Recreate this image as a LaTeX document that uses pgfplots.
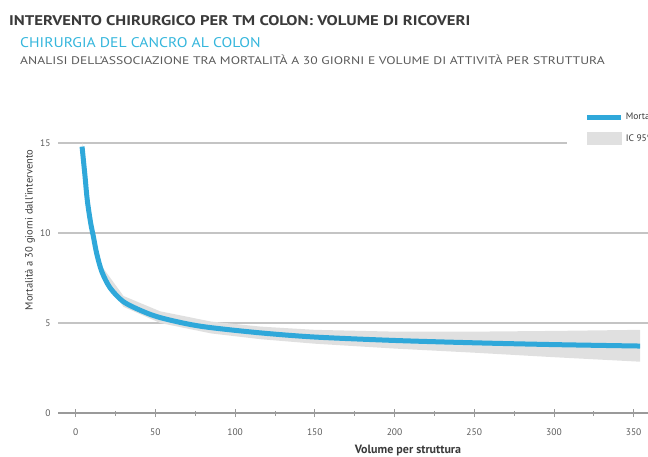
\documentclass[border=0pt]{standalone}
\usepackage{fontspec}
\setmainfont{PT Sans}
\usepackage{pgfplots}
\usepackage{pgfplotstable}
\pgfplotsset{compat=1.18}
\usepgfplotslibrary{fillbetween}
\definecolor{cblue}{HTML}{2FA8DA}
\definecolor{bandc}{HTML}{E0E0E0}
\definecolor{gridc}{HTML}{C4C4C4}
\definecolor{axc}{HTML}{9A9A9A}
\definecolor{tdark}{HTML}{3A3A3A}
\definecolor{tgrey}{HTML}{5A5A5A}
\definecolor{tcyan}{HTML}{35B6DC}
\pgfplotstableread{
vol  y
4    14.8
5    13.9
5.8  13.2
7.3  11.8
9.4  10.55
11.1 9.8
13.2 8.85
16.4 7.85
21.6 6.95
30   6.18
42.5 5.63
53   5.30
70   4.95
85   4.74
116  4.45
150  4.22
200  4.03
250  3.90
300  3.80
354  3.72
}\mortdata
\pgfplotstableread{
vol  lo    hi
4    14.5  15.1
7.3  11.5  12.1
11.1 9.5   10.1
16.4 7.55  8.15
30   5.9   6.5
53   5.0   5.65
85   4.42  5.08
116  4.1   4.8
150  3.85  4.62
200  3.58  4.52
250  3.35  4.52
300  3.1   4.56
354  2.85  4.62
}\cidata
\begin{document}
\begin{tikzpicture}[x=1pt,y=1pt]
\node[anchor=west, text=tdark, font=\fontsize{14}{14}\selectfont\bfseries, inner sep=0] at (9,-21) {\scalebox{1.19}[1]{INTERVENTO CHIRURGICO PER TM COLON: VOLUME DI RICOVERI}};
\node[anchor=west, text=tcyan, font=\fontsize{14}{14}\selectfont, inner sep=0] at (20,-42.5) {\scalebox{1.12}[1]{CHIRURGIA DEL CANCRO AL COLON}};
\node[anchor=west, text=tgrey, font=\fontsize{11}{11}\selectfont, inner sep=0] at (20,-60) {\scalebox{1.24}[1]{ANALISI DELL'ASSOCIAZIONE TRA MORTALITÀ A 30 GIORNI E VOLUME DI ATTIVITÀ PER STRUTTURA}};
\node[rotate=90, text=tdark, font=\fontsize{10.5}{10.5}\selectfont, inner sep=0] at (30,-230) {Mortalità a 30 giorni dall'intervento};
\node[text=tdark, font=\fontsize{12}{12}\selectfont\bfseries, inner sep=0] at (408,-450) {Volume per struttura};
\begin{axis}[
  scale only axis, width=590pt, height=288pt,
  at={(58pt,-413pt)}, anchor=south west,
  xmin=-11.1, xmax=359, ymin=0, ymax=16,
  axis x line=bottom, axis y line=left,
  x axis line style={-, draw=axc, line width=1.2pt},
  y axis line style={draw=none},
  xtick={0,50,...,350}, minor x tick num=1,
  ytick={0,5,10,15},
  ymajorgrids, grid style={gridc, line width=1.6pt},
  tick align=center,
  major tick length=8pt, minor tick length=5pt,
  x tick style={draw=axc, line width=0.8pt},
  y tick style={draw=none},
  tick label style={text=tgrey, font=\fontsize{9.5}{9.5}\selectfont},
  /pgf/number format/assume math mode=true,
  xticklabel style={yshift=-8pt},
  legend style={at={(0.862,1.07)}, anchor=north west, fill=white, draw=none,
    inner xsep=18pt, inner ysep=6pt, row sep=9pt,
    font=\fontsize{9.5}{9.5}\selectfont, text=tdark, cells={anchor=west}},
  legend image code/.code={\draw[#1] (0pt,0pt) -- (34pt,0pt);},
  clip=false,
]
\addplot[name path=up, draw=none, forget plot] table[x=vol, y=hi] {\cidata};
\addplot[name path=lo, draw=none, forget plot] table[x=vol, y=lo] {\cidata};
\addplot[bandc, draw=none, forget plot] fill between[of=up and lo];
\addplot[cblue, line width=5pt, smooth, tension=0.5] table[x=vol, y=y] {\mortdata};
\addlegendentry{Mortalità}
\addlegendimage{legend image code/.code={\fill[bandc] (0pt,-6pt) rectangle (34pt,6pt);}}
\addlegendentry{IC 95\%}
\end{axis}
\pgfresetboundingbox
\useasboundingbox (0,0) rectangle (648,-457);
\end{tikzpicture}
\end{document}
